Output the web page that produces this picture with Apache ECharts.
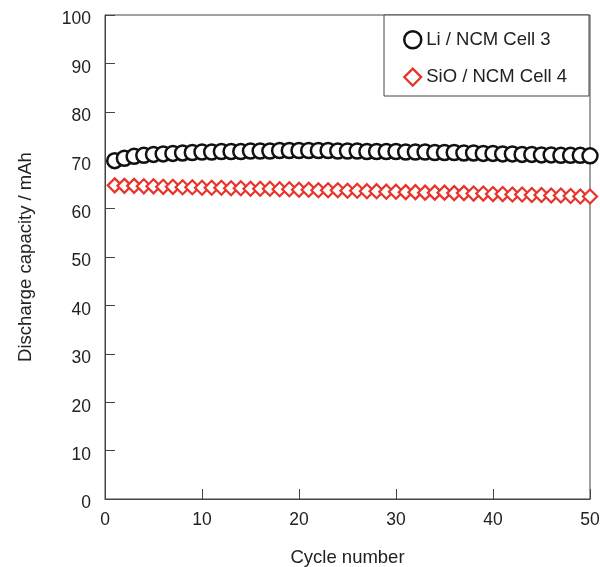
<!DOCTYPE html>
<html>
<head>
<meta charset="utf-8">
<script src="https://cdn.jsdelivr.net/npm/echarts@6/dist/echarts.min.js"></script>
<style>
  html, body { margin: 0; padding: 0; background: #fff; overflow: hidden; }
  #chart { width: 600px; height: 567px; }
</style>
</head>
<body>
<div id="chart"></div>
<script>
// cycle number 1..50
var cycles = [
  1, 2, 3, 4, 5, 6, 7, 8, 9, 10,
  11, 12, 13, 14, 15, 16, 17, 18, 19, 20,
  21, 22, 23, 24, 25, 26, 27, 28, 29, 30,
  31, 32, 33, 34, 35, 36, 37, 38, 39, 40,
  41, 42, 43, 44, 45, 46, 47, 48, 49, 50
]
// Li / NCM Cell 3 (mAh)
var liCell3 = [
  69.9, 70.4, 70.8, 71.0, 71.2, 71.3, 71.4, 71.5, 71.6, 71.7,
  71.7, 71.8, 71.8, 71.8, 71.9, 71.9, 71.9, 72.0, 72.0, 72.0,
  72.0, 72.0, 72.0, 71.9, 71.9, 71.9, 71.8, 71.8, 71.8, 71.8,
  71.7, 71.7, 71.7, 71.6, 71.6, 71.6, 71.5, 71.5, 71.4, 71.4,
  71.3, 71.3, 71.2, 71.2, 71.1, 71.1, 71.0, 71.0, 71.0, 70.9
]
// SiO / NCM Cell 4 (mAh)
var sioCell4 = [
  64.8, 64.7, 64.7, 64.6, 64.6, 64.5, 64.5, 64.4, 64.4, 64.3,
  64.3, 64.3, 64.2, 64.2, 64.1, 64.1, 64.1, 64.0, 64.0, 63.9,
  63.9, 63.8, 63.8, 63.8, 63.7, 63.7, 63.6, 63.6, 63.5, 63.5,
  63.4, 63.4, 63.3, 63.3, 63.3, 63.2, 63.2, 63.1, 63.1, 63.0,
  63.0, 62.9, 62.9, 62.8, 62.8, 62.7, 62.7, 62.6, 62.5, 62.5
]
var seriesNames = ['Li / NCM Cell 3', 'SiO / NCM Cell 4']

var font = 'Liberation Sans, Arial, sans-serif'
var axisColor = '#444'
var textColor = '#222'
var redColor = '#e8332a'

function pairs(ys) {
  return cycles.map(function (c, i) { return [c, ys[i]] })
}

var chart = echarts.init(document.getElementById('chart'))
chart.setOption({
  animation: false,
  grid: {
    left: 105,
    right: 10,
    top: 15,
    bottom: 68,
    outerBoundsMode: 'none', // v6 would otherwise shrink the grid to fit labels
    containLabel: false,
    show: true,
    borderColor: axisColor,
    borderWidth: 1,
  },
  graphic: [
    {
      type: 'rect',
      z: 1,
      shape: { x: 384, y: 15, width: 205, height: 81 },
      style: { fill: '#fff', stroke: axisColor, lineWidth: 1 },
    },
  ],
  legend: {
    orient: 'vertical',
    left: 403,
    top: 30,
    padding: 0,
    itemGap: 18,
    itemWidth: 17,
    itemHeight: 17,
    textStyle: { fontFamily: font, fontSize: 18.5, color: textColor },
    data: [
      {
        name: seriesNames[0],
        icon: 'circle',
        itemStyle: { color: '#fff', borderColor: '#111', borderWidth: 2.5 },
      },
      {
        name: seriesNames[1],
        icon: 'diamond',
        itemStyle: { color: '#fff', borderColor: redColor, borderWidth: 2.2 },
      },
    ],
  },
  xAxis: {
    type: 'value',
    min: 0,
    max: 50,
    interval: 10,
    name: 'Cycle number',
    nameLocation: 'middle',
    nameGap: 49,
    nameTextStyle: { fontFamily: font, fontSize: 18.5, color: textColor },
    axisLine: { lineStyle: { color: axisColor, width: 1 } },
    axisTick: { inside: true, length: 10, lineStyle: { color: axisColor } },
    axisLabel: { margin: 12, fontFamily: font, fontSize: 17.5, color: textColor },
    splitLine: { show: false },
  },
  yAxis: {
    type: 'value',
    min: 0,
    max: 100,
    interval: 10,
    name: 'Discharge capacity / mAh',
    nameLocation: 'middle',
    nameGap: 70,
    nameTextStyle: { fontFamily: font, fontSize: 18.5, color: textColor },
    axisLine: { show: true, lineStyle: { color: axisColor, width: 1 } },
    axisTick: { show: true, inside: true, length: 10, lineStyle: { color: axisColor } },
    // labels sit a little below their ticks in the original
    axisLabel: {
      margin: 14,
      verticalAlign: 'top',
      lineHeight: 9,
      fontFamily: font,
      fontSize: 17.5,
      color: textColor,
    },
    splitLine: { show: false },
  },
  series: [
    {
      name: seriesNames[0],
      type: 'scatter',
      symbol: 'circle',
      symbolSize: 15,
      itemStyle: { color: '#fff', borderColor: '#111', borderWidth: 2.5, opacity: 1 },
      data: pairs(liCell3),
    },
    {
      name: seriesNames[1],
      type: 'scatter',
      symbol: 'diamond',
      symbolSize: 14,
      itemStyle: { color: '#fff', borderColor: redColor, borderWidth: 2.2, opacity: 1 },
      data: pairs(sioCell4),
    },
  ],
})
</script>
</body>
</html>
